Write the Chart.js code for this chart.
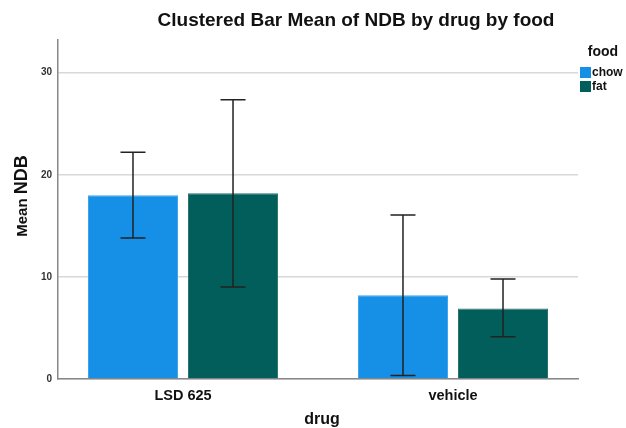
<!DOCTYPE html>
<html><head><meta charset="utf-8">
<script src="https://cdn.jsdelivr.net/npm/chart.js@4"></script>
<style>html,body{margin:0;padding:0;background:#fff}#wrap{width:626px;height:428px}</style>
</head><body><div id="wrap"><canvas id="c" width="626" height="428"></canvas></div>
<script>
const drugs = ['LSD 625', 'vehicle'];
const foods = ['chow', 'fat'];
const chowMeans = [18.0, 8.2];
const fatMeans = [18.2, 6.9];
const chowLower = [13.8, 0.35];
const chowUpper = [22.2, 16.05];
const fatLower = [9.0, 4.15];
const fatUpper = [27.35, 9.8];
const yTicks = [0, 10, 20, 30];
const yMax = 33.2;

const FONT = '"Liberation Sans", Arial, Helvetica, sans-serif';
const chowColor = '#1590E6';
const fatColor = '#025E5A';

const errData = [
  {lo: chowLower, hi: chowUpper},
  {lo: fatLower, hi: fatUpper}
];

const toPoints = arr => arr.map((v, i) => ({x: i, y: v}));

const errorBars = {
  id: 'errorBars',
  afterDatasetsDraw(chart) {
    const ctx = chart.ctx;
    const ys = chart.scales.y;
    ctx.save();
    ctx.strokeStyle = '#222';
    ctx.lineWidth = 1.5;
    errData.forEach((e, d) => {
      const meta = chart.getDatasetMeta(d);
      meta.data.forEach((bar, i) => {
        const x = bar.x;
        const y1 = ys.getPixelForValue(e.lo[i]);
        const y2 = ys.getPixelForValue(e.hi[i]);
        ctx.beginPath();
        ctx.moveTo(x, y1); ctx.lineTo(x, y2);
        ctx.moveTo(x - 12.5, y1); ctx.lineTo(x + 12.5, y1);
        ctx.moveTo(x - 12.5, y2); ctx.lineTo(x + 12.5, y2);
        ctx.stroke();
      });
    });
    ctx.restore();
  }
};

const texts = {
  id: 'texts',
  afterDraw(chart) {
    const ctx = chart.ctx;
    const ca = chart.chartArea;
    ctx.save();
    ctx.fillStyle = '#111';
    ctx.font = 'bold 19px ' + FONT;
    ctx.textAlign = 'center';
    ctx.textBaseline = 'middle';
    ctx.fillText('Clustered Bar Mean of NDB by drug by food', 356, 21);
    ctx.font = 'bold 16px ' + FONT;
    ctx.fillText('drug', (ca.left + ca.right) / 2 + 4, 420);
    ctx.font = 'bold 14px ' + FONT;
    ctx.fillText('food', 603, 52);
    ctx.textAlign = 'left';
    ctx.font = 'bold 12px ' + FONT;
    [[foods[0], chowColor, 67], [foods[1], fatColor, 81]].forEach(([lab, col, y]) => {
      ctx.fillStyle = col;
      ctx.fillRect(580, y, 11, 11);
      ctx.fillStyle = '#111';
      ctx.fillText(lab, 592, y + 6);
    });
    ctx.translate(27, 196);
    ctx.rotate(-Math.PI / 2);
    ctx.textBaseline = 'alphabetic';
    ctx.font = 'bold 15px ' + FONT;
    const w1 = ctx.measureText('Mean ').width;
    ctx.font = 'bold 18px ' + FONT;
    const w2 = ctx.measureText('NDB').width;
    const start = -(w1 + w2) / 2;
    ctx.font = 'bold 15px ' + FONT;
    ctx.fillText('Mean ', start, 0);
    ctx.font = 'bold 18px ' + FONT;
    ctx.fillText('NDB', start + w1, 0);
    ctx.restore();
  }
};

new Chart(document.getElementById('c'), {
  type: 'bar',
  data: {
    datasets: [
      {label: foods[0], data: toPoints(chowMeans), backgroundColor: chowColor, borderColor: '#3FA4EC', borderWidth: 1},
      {label: foods[1], data: toPoints(fatMeans), backgroundColor: fatColor, borderColor: '#2A7470', borderWidth: 1}
    ]
  },
  options: {
    responsive: false,
    animation: false,
    devicePixelRatio: 1,
    layout: {padding: {left: 0, right: 48, top: 40, bottom: 0}},
    categoryPercentage: 0.741,
    barPercentage: 0.9,
    plugins: {legend: {display: false}, title: {display: false}, tooltip: {enabled: false}},
    scales: {
      x: {
        type: 'linear',
        offset: false,
        min: -0.463, max: 1.463,
        grid: {display: false, drawTicks: false, offset: false},
        border: {display: true, color: '#888', width: 1.5},
        ticks: {color: '#111', font: {family: FONT, size: 14.5, weight: 'bold'}, padding: 8,
                callback: v => drugs[v]},
        afterBuildTicks(s) { s.ticks = drugs.map((_, i) => ({value: i})); },
        afterFit(s) { s.height = 49; }
      },
      y: {
        min: 0, max: yMax,
        grid: {color: '#d8d8d8', lineWidth: 1.5, drawTicks: false},
        border: {display: true, color: '#888', width: 1.5},
        ticks: {stepSize: 10, color: '#333', font: {family: FONT, size: 10, weight: 'bold'}, padding: 6},
        afterBuildTicks(s) { s.ticks = yTicks.map(v => ({value: v})); },
        afterFit(s) { s.width = 58; }
      }
    }
  },
  plugins: [errorBars, texts]
});
</script></body></html>
